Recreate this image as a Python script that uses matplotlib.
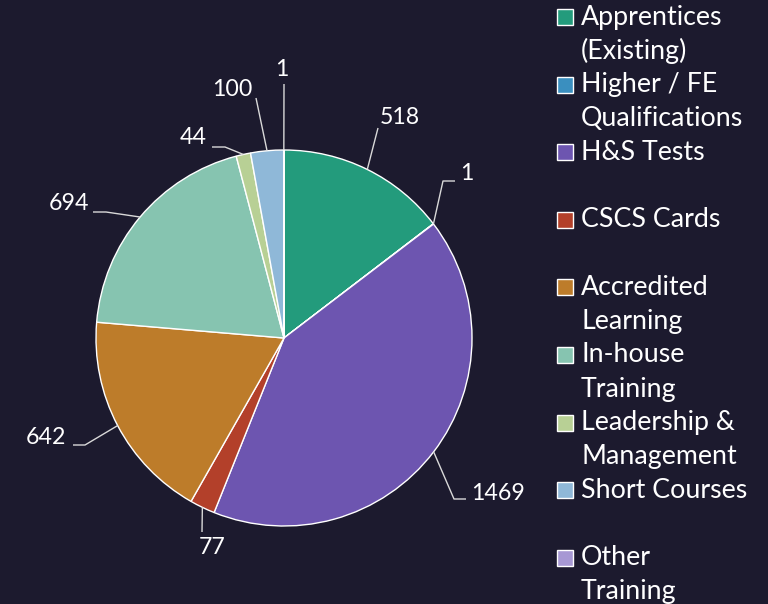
import numpy as np
import matplotlib
matplotlib.use("Agg")
import matplotlib.pyplot as plt
from matplotlib.patches import Rectangle

# ---- data ----
categories = ["Apprentices (Existing)", "Higher / FE Qualifications", "H&S Tests",
              "CSCS Cards", "Accredited Learning", "In-house Training",
              "Leadership & Management", "Short Courses", "Other Training"]
legend_lines = [["Apprentices", "(Existing)"], ["Higher / FE", "Qualifications"],
                ["H&S Tests"], ["CSCS Cards"], ["Accredited", "Learning"],
                ["In-house", "Training"], ["Leadership &", "Management"],
                ["Short Courses"], ["Other", "Training"]]
values = [518, 1, 1469, 77, 642, 694, 44, 100, 1]
colors = ["#239b7c", "#3a8fbf", "#6d55b0", "#b3402a", "#bd7c2a",
          "#86c4b0", "#b8d095", "#8fb8d8", "#a798d4"]

# ---- layout (pixel coordinates, y from top) ----
W, H = 768, 604
BG = "#1c1a2e"
center = (284, 338)
radius = 188
# per-label: text position, alignment, intermediate leader points (after the wedge edge)
label_layout = [
    ((400, 118), "center", [(378, 128)]),
    ((460, 173), "left",   [(443, 181), (455, 181)]),
    ((471, 493), "left",   [(454, 499), (466, 499)]),
    ((212, 548), "center", [(202, 532)]),
    ((66, 437),  "right",  [(85, 445), (73, 445)]),
    ((89, 204),  "right",  [(106, 212), (93, 212)]),
    ((207, 138), "right",  [(225, 147), (212, 147)]),
    ((232, 90),  "center", [(256, 98)]),
    ((282, 70),  "center", [(284, 84)]),
]

FONT = "Lato"
plt.rcParams["font.family"] = [FONT, "DejaVu Sans"]

fig = plt.figure(figsize=(W / 100, H / 100), dpi=100, facecolor=BG)
ax = fig.add_axes([0, 0, 1, 1])
ax.set_facecolor(BG)

def P(x, y):
    return (x, H - y)

wedges, _ = ax.pie(values, colors=colors, startangle=90, counterclock=False,
                   center=P(*center), radius=radius, frame=True,
                   wedgeprops=dict(edgecolor="white", linewidth=1.0))
ax.set_xlim(0, W)
ax.set_ylim(0, H)
ax.set_aspect("equal")
ax.axis("off")

# labels with leader lines
for w, v, (tpos, ha, pts) in zip(wedges, values, label_layout):
    mid = np.deg2rad((w.theta1 + w.theta2) / 2)
    cx, cy = P(*center)
    ex, ey = cx + radius * np.cos(mid), cy + radius * np.sin(mid)
    xs = [ex] + [P(*p)[0] for p in pts]
    ys = [ey] + [P(*p)[1] for p in pts]
    ax.plot(xs, ys, color="#d9d9d9", lw=1.0, solid_capstyle="butt")
    ax.text(*P(*tpos), str(v), color="white", fontsize=16.7, ha=ha, va="center")

# custom legend
leg_x_box, leg_x_text = 557, 581
leg_top = 17
entry_step = 67.6
line_step = 34
for i, (lines, c) in enumerate(zip(legend_lines, colors)):
    y0 = leg_top + i * entry_step
    bx, by = P(leg_x_box, y0 + 8)
    ax.add_patch(Rectangle((bx, by), 16, 16, facecolor=c, edgecolor="white", lw=1.0))
    for j, ln in enumerate(lines):
        ax.text(*P(leg_x_text, y0 + j * line_step), ln, color="white",
                fontsize=19.3, ha="left", va="center")

fig.savefig("out.png", dpi=100, facecolor=BG)
